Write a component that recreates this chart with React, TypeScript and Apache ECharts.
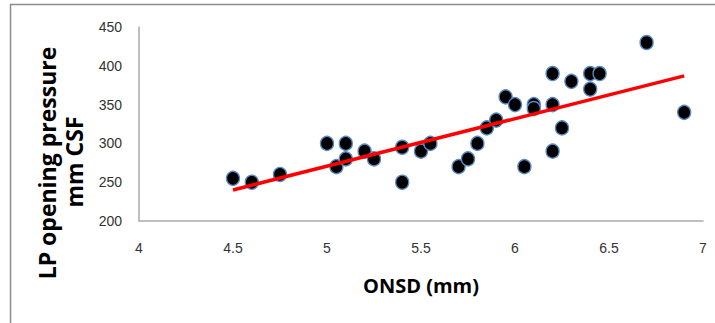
import React, { useEffect, useRef } from "react";
import * as echarts from "echarts";

const onsd = [4.5, 4.6, 4.75, 5.0, 5.05, 5.1, 5.1, 5.2, 5.25, 5.4, 5.4, 5.5, 5.55, 5.7, 5.75, 5.8, 5.85, 5.9, 5.95, 6.0, 6.05, 6.1, 6.1, 6.2, 6.2, 6.2, 6.25, 6.3, 6.4, 6.4, 6.45, 6.7, 6.9];
const pressure = [255, 250, 260, 300, 270, 300, 280, 290, 280, 295, 250, 290, 300, 270, 280, 300, 320, 330, 360, 350, 270, 350, 345, 390, 350, 290, 320, 380, 390, 370, 390, 430, 340];
const trendX = [4.5, 6.9];
const trendY = [240, 387];
const xTitle = "ONSD (mm)";
const yTitle1 = "LP opening pressure";
const yTitle2 = "mm CSF";

export default function App() {
  const ref = useRef<HTMLDivElement>(null);
  useEffect(() => {
    if (!ref.current) return;
    const chart = echarts.init(ref.current, undefined, { renderer: "svg" });
    const labelFont = {
      fontFamily: "Liberation Sans",
      fontSize: 14,
      color: "#333333",
    };
    chart.setOption({
      animation: false,
      backgroundColor: "#ffffff",
      grid: { left: 139, right: 12, top: 27, bottom: 102, containLabel: false },
      xAxis: {
        type: "value",
        min: 4,
        max: 7,
        interval: 0.5,
        axisLine: { show: true, lineStyle: { color: "#aaaaaa", width: 1.5 } },
        axisTick: { show: false },
        splitLine: { show: false },
        axisLabel: { ...labelFont, margin: 20 },
      },
      yAxis: {
        type: "value",
        min: 200,
        max: 450,
        interval: 50,
        axisLine: { show: true, lineStyle: { color: "#aaaaaa", width: 1.5 } },
        axisTick: { show: false },
        splitLine: { show: false },
        axisLabel: { ...labelFont, margin: 17 },
      },
      graphic: [
        {
          type: "rect",
          shape: { x: 10.5, y: 4.5, width: 760, height: 380 },
          style: { fill: "none", stroke: "#8c8c8c", lineWidth: 1.5 },
          silent: true,
        },
        {
          type: "text",
          x: 47,
          y: 163,
          rotation: Math.PI / 2,
          style: {
            text: yTitle1,
            font: "bold 23px 'Open Sans'",
            fill: "#000000",
            align: "center",
            verticalAlign: "middle",
          },
        },
        {
          type: "text",
          x: 74,
          y: 162,
          rotation: Math.PI / 2,
          style: {
            text: yTitle2,
            font: "bold 23px 'Open Sans'",
            fill: "#000000",
            align: "center",
            verticalAlign: "middle",
          },
        },
        {
          type: "text",
          x: 421,
          y: 285,
          style: {
            text: xTitle,
            font: "bold 20px 'Open Sans'",
            fill: "#000000",
            align: "center",
            verticalAlign: "middle",
          },
        },
      ],
      series: [
        {
          type: "scatter",
          data: onsd.map((x, i) => [x, pressure[i]]),
          symbol: "circle",
          symbolSize: [13, 14],
          itemStyle: {
            color: "#000000",
            borderColor: "#5a8ac6",
            borderWidth: 1.4,
            opacity: 1,
          },
          z: 2,
        },
        {
          type: "line",
          data: trendX.map((x, i) => [x, trendY[i]]),
          symbol: "none",
          lineStyle: { color: "#ff0000", width: 3.5 },
          z: 3,
        },
      ],
    });
    return () => chart.dispose();
  }, []);
  return (
    <div
      ref={ref}
      style={{ position: "fixed", left: 0, top: 0, width: 715, height: 323, background: "#fff" }}
    />
  );
}
